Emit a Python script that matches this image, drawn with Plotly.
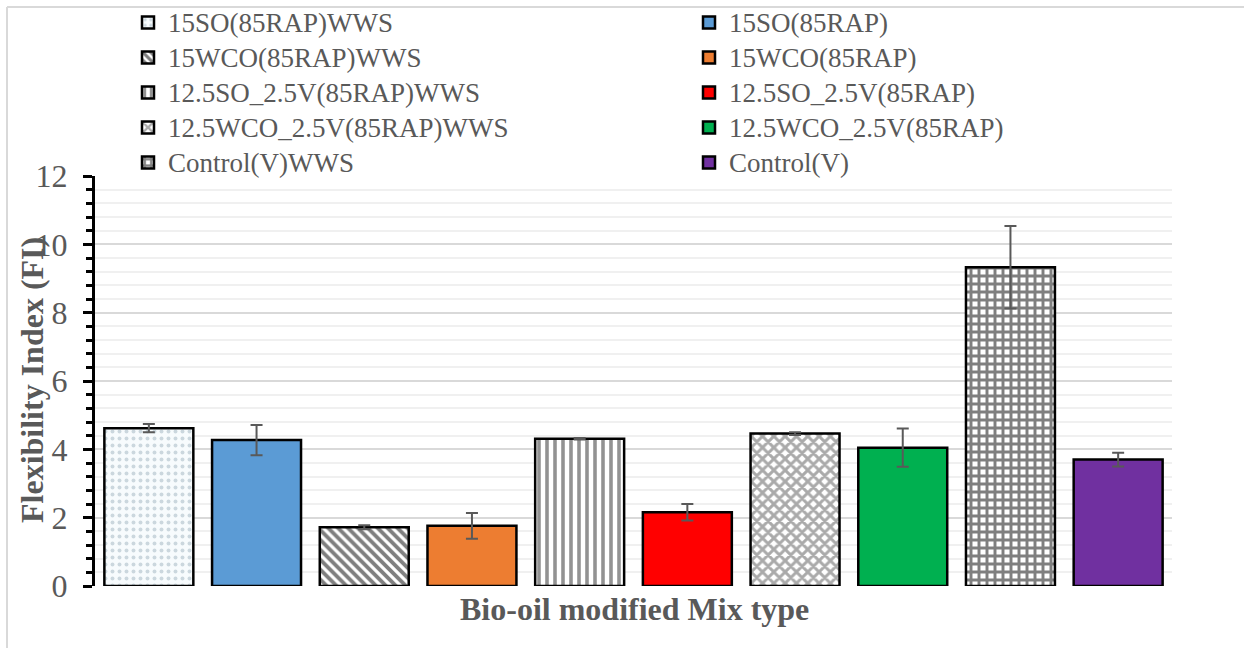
import plotly.graph_objects as go

# ---- data ----
categories = [
    "15SO(85RAP)WWS", "15SO(85RAP)",
    "15WCO(85RAP)WWS", "15WCO(85RAP)",
    "12.5SO_2.5V(85RAP)WWS", "12.5SO_2.5V(85RAP)",
    "12.5WCO_2.5V(85RAP)WWS", "12.5WCO_2.5V(85RAP)",
    "Control(V)WWS", "Control(V)",
]
fi_values = [4.62, 4.27, 1.72, 1.76, 4.31, 2.16, 4.46, 4.05, 9.33, 3.70]
fi_errors = [0.12, 0.44, 0.06, 0.38, 0.02, 0.24, 0.04, 0.56, 1.21, 0.20]
y_ticks = [0, 2, 4, 6, 8, 10, 12]

# ---- styles ----
FONT = "Liberation Serif"
GRAY = "#595959"
styles = [
    dict(color="white", pattern=dict(shape=".", fgcolor="#9fb3bf", bgcolor="#f7fbfd", size=7, solidity=0.25)),
    dict(color="#5B9BD5", pattern=None),
    dict(color="white", pattern=dict(shape="\\", fgcolor="#000000", bgcolor="white", size=7, solidity=0.55)),
    dict(color="#ED7D31", pattern=None),
    dict(color="white", pattern=dict(shape="|", fgcolor="#262626", bgcolor="white", size=8, solidity=0.45)),
    dict(color="#FF0000", pattern=None),
    dict(color="white", pattern=dict(shape="x", fgcolor="#555555", bgcolor="white", size=8, solidity=0.6)),
    dict(color="#00B050", pattern=None),
    dict(color="white", pattern=dict(shape="+", fgcolor="#000000", bgcolor="white", size=8, solidity=0.6)),
    dict(color="#7030A0", pattern=None),
]

# plot area pixel geometry
L, R, T, B = 95, 72, 176, 62
W, H = 1244, 648
PW, PH = W - L - R, H - T - B


def px_x(p):
    return (p - L) / PW


def px_y(p):
    return (H - B - p) / PH


fig = go.Figure()
for i, (cat, v, e, st) in enumerate(zip(categories, fi_values, fi_errors, styles)):
    marker = dict(color=st["color"], line=dict(color="black", width=2.5))
    if st["pattern"]:
        marker["pattern"] = st["pattern"]
    fig.add_trace(go.Bar(
        x=[cat], y=[v],
        name=f'<span style="font-size:27px">{cat}</span>',
        marker=marker,
        error_y=dict(type="data", array=[e], visible=True, color=GRAY, thickness=2, width=6),
        legend="legend" if i % 2 == 0 else "legend2",
    ))

legend_common = dict(
    orientation="v", yanchor="top", xanchor="left",
    font=dict(family=FONT, size=24.6, color=GRAY),
    bgcolor="rgba(0,0,0,0)", borderwidth=0, itemclick=False,
)

fig.update_layout(
    width=W, height=H,
    margin=dict(l=L, r=R, t=T, b=B, pad=0, autoexpand=False),
    paper_bgcolor="white", plot_bgcolor="white",
    barmode="overlay", bargap=0.174,
    font=dict(family=FONT, color=GRAY),
    legend=dict(x=px_x(128), y=px_y(0), **legend_common),
    legend2=dict(x=px_x(689), y=px_y(0), **legend_common),
    xaxis=dict(
        categoryorder="array", categoryarray=categories,
        showticklabels=False, ticks="", showgrid=False, zeroline=False, showline=False,
    ),
    yaxis=dict(
        range=[0, 12], tickvals=y_ticks, ticks="outside", ticklen=9, tickwidth=3,
        tickcolor="black", showline=True, linecolor="black", linewidth=3,
        tickfont=dict(family=FONT, size=32, color=GRAY), ticklabelstandoff=9,
        showgrid=True, gridcolor="#d9d9d9", gridwidth=2, zeroline=False,
        minor=dict(dtick=0.4, ticks="outside", ticklen=6, tickwidth=3, tickcolor="black",
                   showgrid=True, gridcolor="#f0f0f0", gridwidth=2),
    ),
    annotations=[
        dict(text="<b>Flexibility Index (FI)</b>", textangle=-90, xref="paper", yref="paper",
             x=px_x(32), y=px_y(380), xanchor="center", yanchor="middle", showarrow=False,
             font=dict(family=FONT, size=32, color=GRAY)),
        dict(text="<b>Bio-oil modified Mix type</b>", xref="paper", yref="paper",
             x=px_x(634), y=px_y(609), xanchor="center", yanchor="middle", showarrow=False,
             font=dict(family=FONT, size=32, color=GRAY)),
    ],
    shapes=[
        dict(type="line", xref="paper", yref="paper", x0=px_x(7), x1=px_x(1244), y0=px_y(7), y1=px_y(7),
             line=dict(color="#d9d9d9", width=2), layer="below"),
        dict(type="line", xref="paper", yref="paper", x0=px_x(7), x1=px_x(7), y0=px_y(7), y1=px_y(648),
             line=dict(color="#d9d9d9", width=2), layer="below"),
    ],
)

fig.write_html("out.html")
